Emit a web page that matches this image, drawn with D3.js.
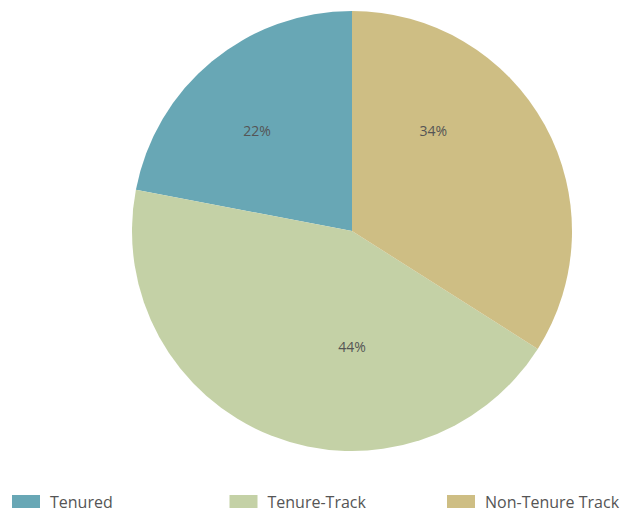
<!DOCTYPE html>
<html>
<head>
<meta charset="utf-8">
<script src="https://cdn.jsdelivr.net/npm/d3@7"></script>
<style>
  body { margin: 0; background: #fff; }
  svg { display: block; }
</style>
</head>
<body>
<script>
const categories = ['Tenured', 'Tenure-Track', 'Non-Tenure Track'];
const shares = [22, 44, 34];
const colors = ['#68a7b5', '#c4d1a6', '#cebe84'];

const width = 624;
const height = 513;
const cx = 352, cy = 231, radius = 220;

// label placement tweak (deg offset from slice middle, radius)
const labelNudge = [[-3.9, 138], [-21.6, 116], [-22.2, 129]];

const svg = d3.select('body').append('svg')
  .attr('width', width)
  .attr('height', height);

const data = categories.map((c, i) => ({ name: c, value: shares[i], color: colors[i], i }));

// drawn counter-clockwise from 12 o'clock so Tenured sits just left of top
const pie = d3.pie()
  .sort(null)
  .value(d => d.value)
  .startAngle(2 * Math.PI)
  .endAngle(0);

const arc = d3.arc().innerRadius(0).outerRadius(radius);

const g = svg.append('g').attr('transform', `translate(${cx},${cy})`);

const slices = pie(data);

g.selectAll('path')
  .data(slices)
  .enter().append('path')
    .attr('d', arc)
    .attr('fill', d => d.data.color);

g.selectAll('text')
  .data(slices)
  .enter().append('text')
    .attr('x', d => {
      const n = labelNudge[d.data.i];
      const a = (d.startAngle + d.endAngle) / 2 + n[0] * Math.PI / 180;
      return n[1] * Math.sin(a);
    })
    .attr('y', d => {
      const n = labelNudge[d.data.i];
      const a = (d.startAngle + d.endAngle) / 2 + n[0] * Math.PI / 180;
      return -n[1] * Math.cos(a);
    })
    .attr('dy', '0.35em')
    .attr('text-anchor', 'middle')
    .style('font-family', '"Open Sans", sans-serif')
    .style('font-size', '14px')
    .attr('fill', '#555')
    .text(d => `${d.data.value}%`);

const legendX = d3.scalePoint().domain(categories).range([12, 447]);

const legend = svg.append('g').attr('class', 'legend')
  .selectAll('g')
  .data(data)
  .enter().append('g')
    .attr('transform', d => `translate(${legendX(d.name)},495)`);

legend.append('rect')
  .attr('width', 28)
  .attr('height', 13)
  .attr('fill', d => d.color);

legend.append('text')
  .attr('x', 38)
  .attr('y', 12.5)
  .style('font-family', '"Open Sans", sans-serif')
  .style('font-size', '16px')
  .attr('fill', '#555')
  .text(d => d.name);
</script>
</body>
</html>
